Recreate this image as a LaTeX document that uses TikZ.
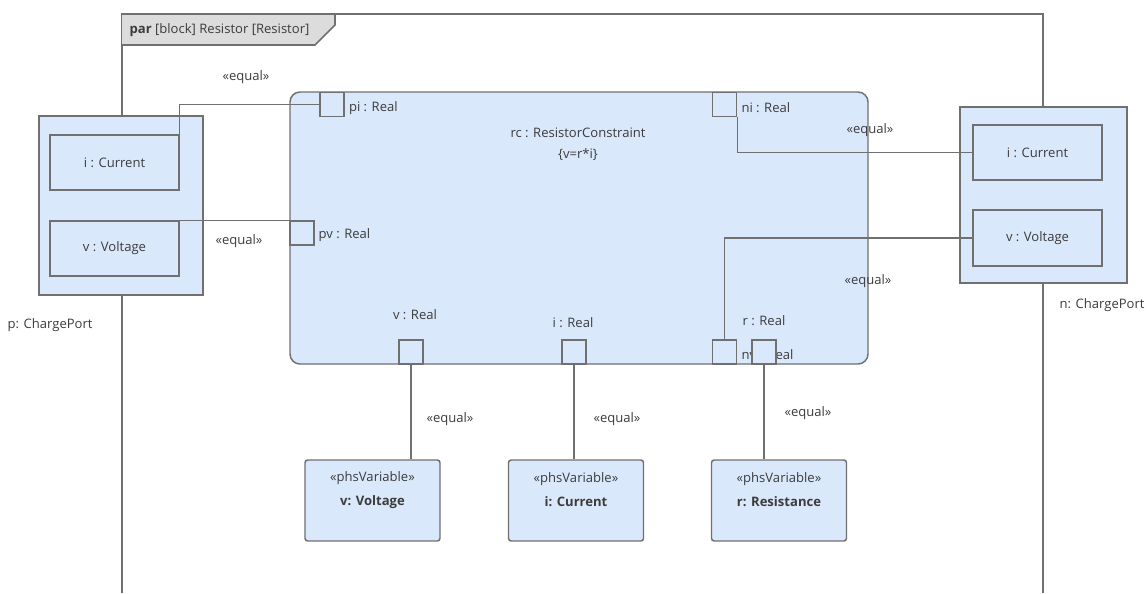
\documentclass[tikz,border=0pt]{standalone}
\usepackage{fontspec}
\setmainfont{Open Sans}
\usepackage{tikz}
\usetikzlibrary{positioning}
\usepackage{xcolor}
\definecolor{partfill}{RGB}{218,232,252}
\definecolor{partline}{RGB}{112,112,112}
\definecolor{tabfill}{RGB}{220,220,220}
\definecolor{txtgray}{RGB}{60,60,60}

\begin{document}
\begin{tikzpicture}[
    x=0.75pt, y=-0.75pt,
    font=\fontsize{9.8}{11}\selectfont, text=txtgray,
    frame/.style={draw=partline, line width=1.3pt},
    portblock/.style={rectangle, draw=partline, fill=partfill, line width=1.1pt, minimum width=123pt, minimum height=134.25pt},
    valueblock/.style={rectangle, draw=partline, fill=partfill, line width=1.1pt, minimum width=96.75pt, minimum height=41.25pt},
    constraintblock/.style={rectangle, rounded corners=7.5pt, draw=partline, fill=partfill, line width=1.1pt, minimum width=433.5pt, minimum height=204pt},
    paramport/.style={rectangle, draw=partline, fill=partfill, line width=1.1pt, minimum size=18pt, inner sep=0pt},
    varblock/.style={rectangle, rounded corners=2pt, draw=partline, fill=partfill, line width=1.1pt, minimum width=101.25pt, minimum height=60.75pt},
    vartext/.style={align=center, font=\fontsize{9.8}{18}\selectfont},
    tag/.style={inner sep=1pt, yshift=-1.2pt},
    bind/.style={draw=partline, line width=0.8pt}
]
\useasboundingbox (0,0) rectangle (1148,593);

% Diagram frame
\draw[frame] (122,593) -- (122,14) -- (1043,14) -- (1043,593);
\draw[frame, fill=tabfill] (122,14) -- (335,14) -- (335,25) -- (315,45) -- (122,45);
\node[tag, anchor=west] (title) at (128,29) {\textbf{par} [block] Resistor [Resistor]};

% Constraint property
\node[constraintblock] (rc) at (579,228) {};
\node[tag, align=center, font=\fontsize{9.8}{15.75}\selectfont] (rclabel) at (578,142.5) {rc : ResistorConstraint\\\{v=r*i\}};

% Parameters
\node[paramport] (pi) at (332,104.5) {};
\node[paramport] (pv) at (302,233) {};
\node[paramport] (ni) at (724.5,104.5) {};
\node[paramport] (vpar) at (411,352) {};
\node[paramport] (ipar) at (574,352) {};
\node[paramport] (nv) at (724.5,352) {};
\node[tag, anchor=west] (nvlabel) at (740,353) {nv : Real};
\node[paramport] (rpar) at (764,352) {};

\node[tag, right=2pt of pi, yshift=-1.5pt] (pilabel) {pi : Real};
\node[tag, anchor=west] (pvlabel) at (317,233) {pv : Real};
\node[tag, right=2pt of ni, yshift=-1.5pt] (nilabel) {ni : Real};
\node[tag] (vlabel) at (415,313) {v : Real};
\node[tag] (ilabel) at (573,321) {i : Real};
\node[tag] (rlabel) at (764,319) {r : Real};

% Ports p and n
\node[portblock] (p) at (121,205.5) {};
\node[valueblock] (pI) at (114.5,162.5) {i : Current};
\node[valueblock] (pV) at (114.5,248.5) {v : Voltage};
\node[tag, anchor=west] (plabel) at (6,323) {p: ChargePort};

\node[portblock, minimum width=125.25pt, minimum height=132pt] (n) at (1043.5,195) {};
\node[valueblock] (nI) at (1037.5,152.5) {i : Current};
\node[valueblock, minimum height=42pt] (nV) at (1037.5,238) {v : Voltage};
\node[tag, anchor=west] (nlabel) at (1058,303) {n: ChargePort};

% Value properties
\node[varblock] (varV) at (372.5,500.5) {};
\node[varblock] (varI) at (576,500.5) {};
\node[varblock] (varR) at (779,500.5) {};
\node[vartext] (varVlabel) at ([yshift=7.9pt]varV.center) {«phsVariable»\\\textbf{v: Voltage}};
\node[vartext] (varIlabel) at ([yshift=7.9pt]varI.center) {«phsVariable»\\\textbf{i: Current}};
\node[vartext] (varRlabel) at ([yshift=7.9pt]varR.center) {«phsVariable»\\\textbf{r: Resistance}};

% Binding connectors
\draw[bind] (pI.north east) |- (pi.west);
\draw[bind] (pV.north east) -- (pv.north west);
\draw[bind] (ni.south east) |- (nI.west);
\draw[bind] (nV.west) -| (nv.north);
\draw[bind] (vpar.south) -- (vpar.south |- varV.north);
\draw[bind] (ipar.south) -- (ipar.south |- varI.north);
\draw[bind] (rpar.south) -- (rpar.south |- varR.north);

% Stereotype labels
\node[tag] (eq1) at (246,76) {«equal»};
\node[tag] (eq2) at (239,239) {«equal»};
\node[tag] (eq3) at (870,129) {«equal»};
\node[tag] (eq4) at (868,279) {«equal»};
\node[tag] (eq5) at (450,417) {«equal»};
\node[tag] (eq6) at (617,417) {«equal»};
\node[tag] (eq7) at (808,411) {«equal»};

\end{tikzpicture}
\end{document}
